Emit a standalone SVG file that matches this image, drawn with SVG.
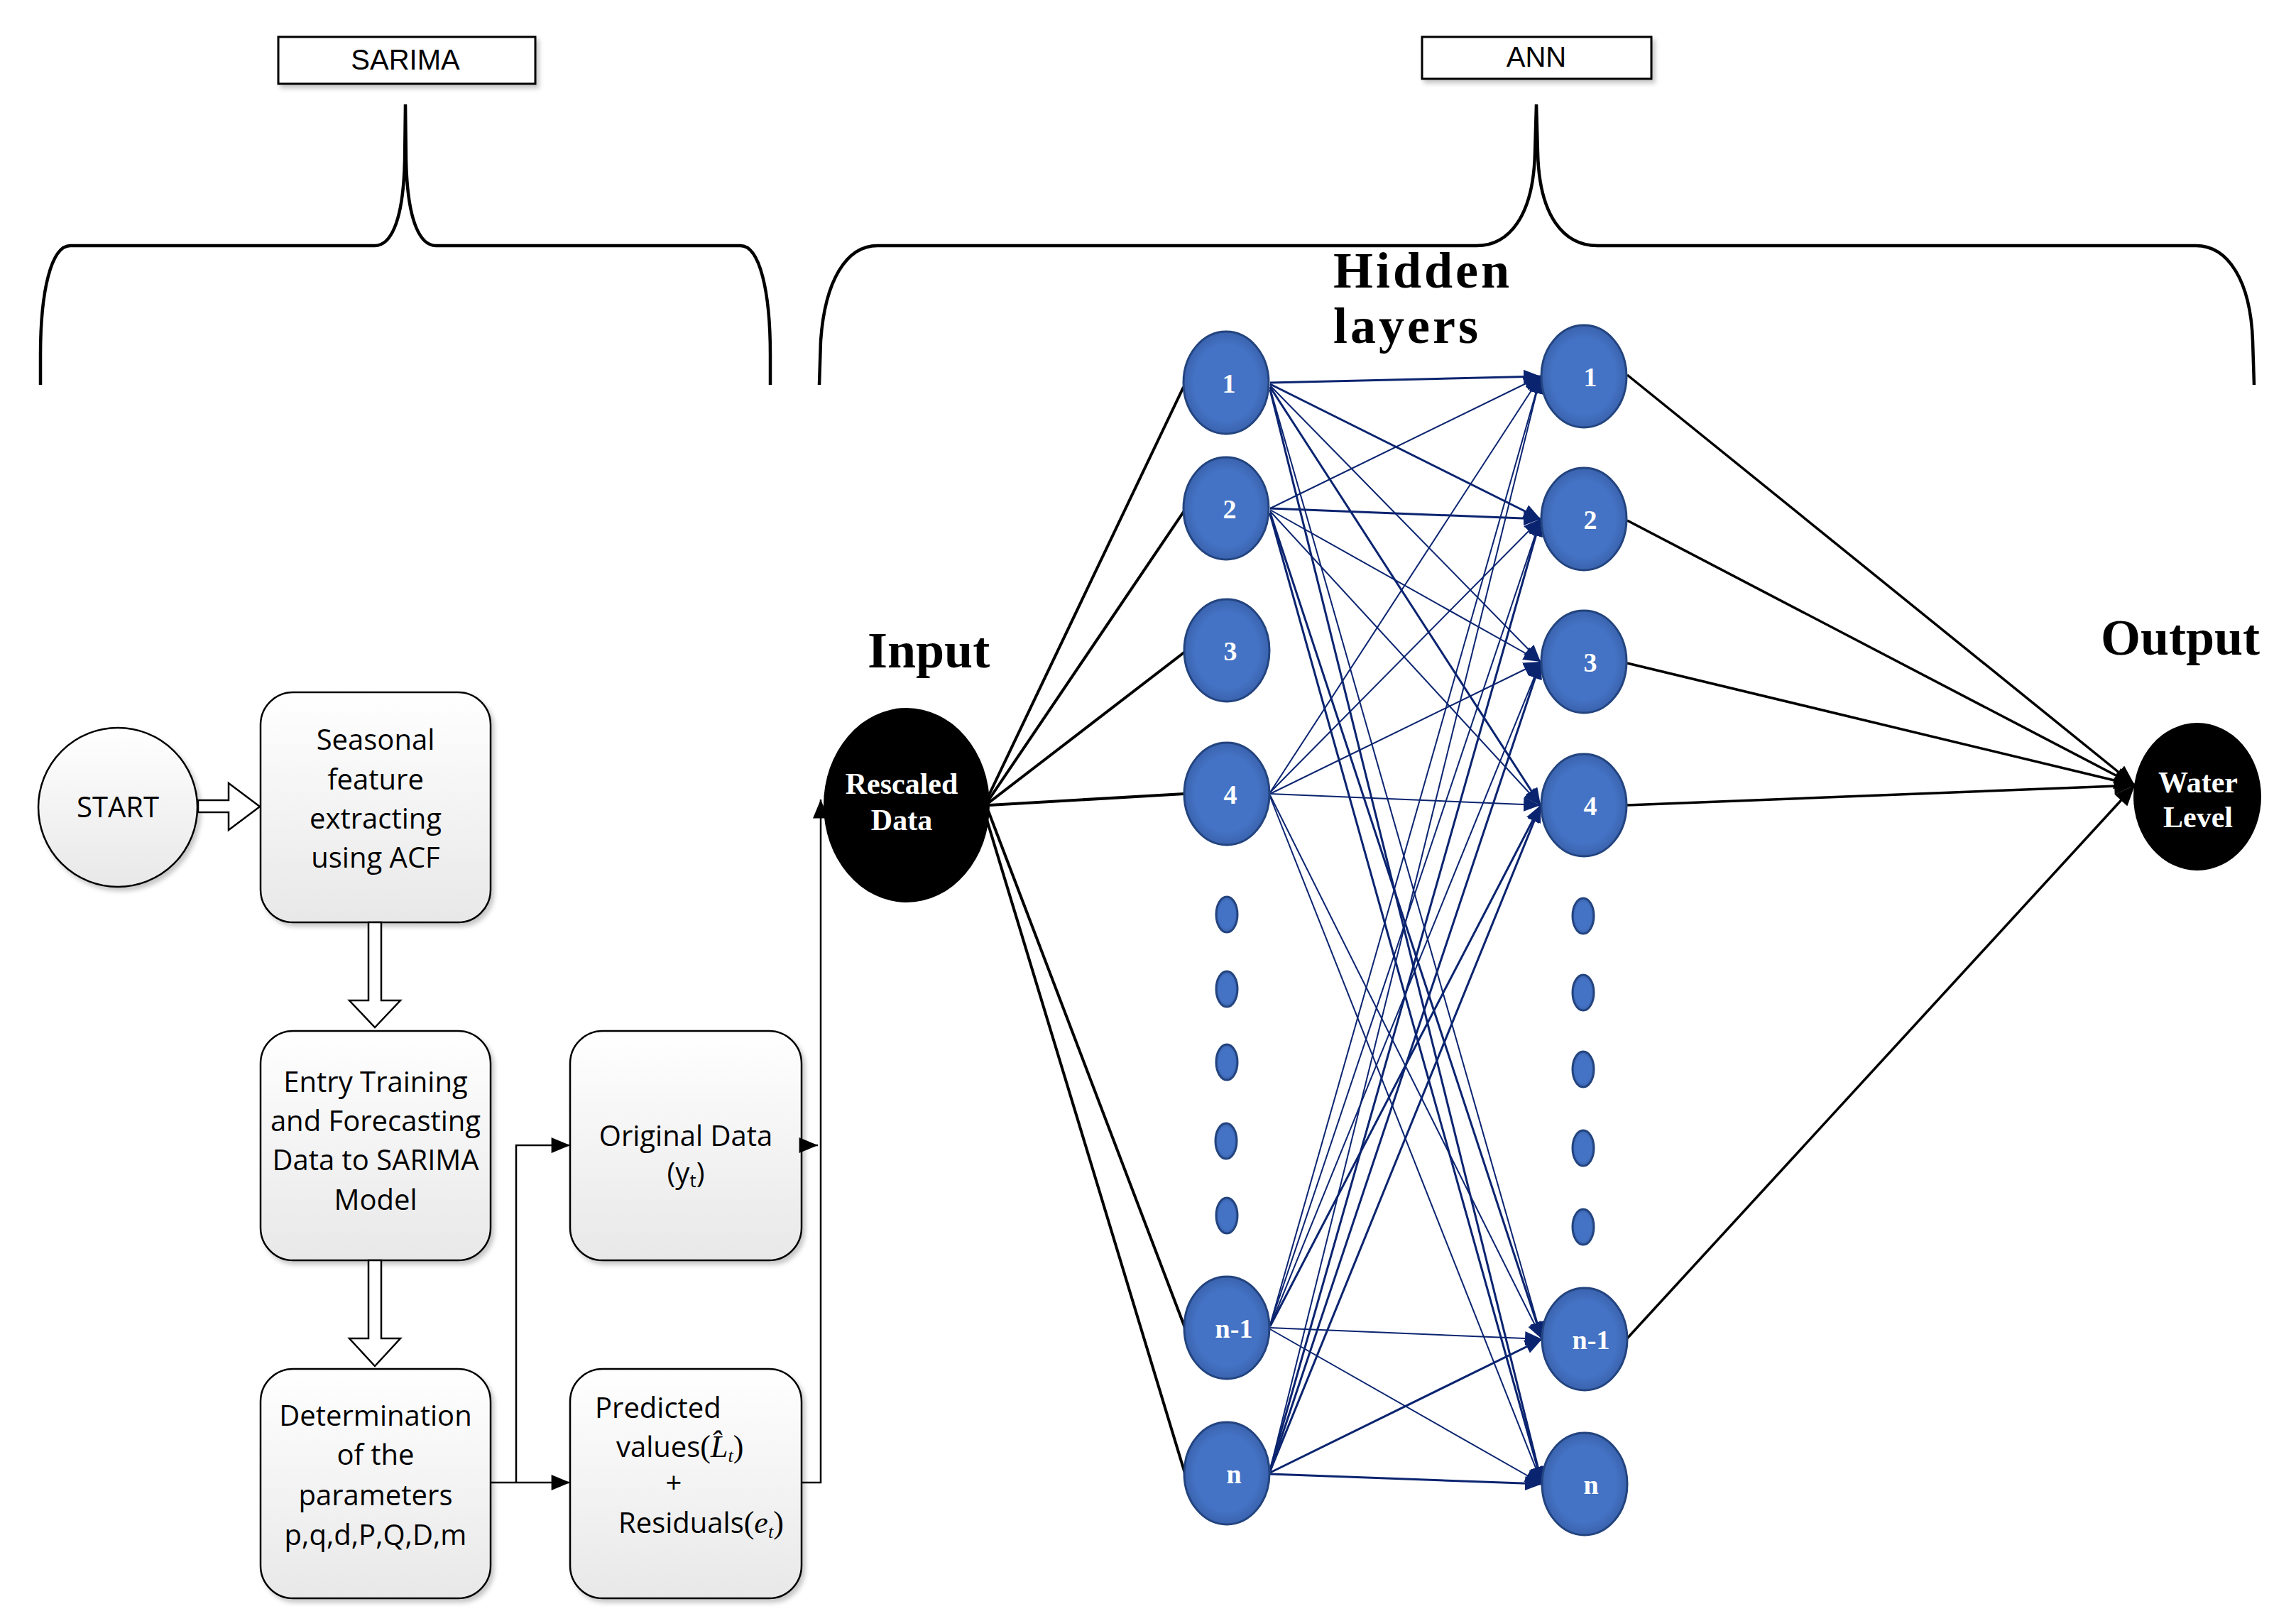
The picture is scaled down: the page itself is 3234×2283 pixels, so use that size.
<svg xmlns="http://www.w3.org/2000/svg" width="3234" height="2283" viewBox="0 0 3234 2283">
<defs>
<style>
.fc{font-family:"Open Sans","Liberation Sans",sans-serif;font-size:40px;fill:#000;text-anchor:middle}
.fs{font-family:"Open Sans","Liberation Sans",sans-serif;font-size:40px;fill:#000;text-anchor:start}
.box{fill:url(#bg);stroke:#000;stroke-width:2.5;filter:url(#sh)}
.brace{fill:none;stroke:#000;stroke-width:4.5}
.hd{font-family:"Liberation Serif",serif;font-weight:bold;font-size:72px;fill:#000}
.nd{fill:url(#nb);stroke:#23447f;stroke-width:3}
.nl{font-family:"Liberation Serif",serif;font-weight:bold;font-size:38px;fill:#fff;text-anchor:middle}
.bl{font-family:"Liberation Serif",serif;font-weight:bold;font-size:42px;fill:#fff;text-anchor:middle}
.hw{stroke:#0b2470;stroke-width:3;fill:none;marker-end:url(#na)}
.hw2{stroke:#0b2470;stroke-width:2;fill:none;marker-end:url(#na)}
.iw{stroke:#000;stroke-width:4;fill:none}
.ow{stroke:#000;stroke-width:3.5;fill:none;marker-end:url(#ka)}
.fl{stroke:#000;stroke-width:2.5;fill:none}
.blk{fill:#fff;stroke:#000;stroke-width:2.5}
.sf{font-family:"Liberation Serif",serif;font-size:44px}
.si{font-family:"Liberation Serif",serif;font-style:italic;font-size:44px}
.sub{font-family:"Liberation Serif",serif;font-style:italic;font-size:26px}
</style>
<linearGradient id="bg" x1="0" y1="0" x2="0" y2="1">
<stop offset="0" stop-color="#ffffff"/>
<stop offset="1" stop-color="#e8e8e8"/>
</linearGradient>
<radialGradient id="nb" cx="0.5" cy="0.5" r="0.5">
<stop offset="0.75" stop-color="#4472c4"/>
<stop offset="1" stop-color="#3a63ae"/>
</radialGradient>
<filter id="sh" x="-10%" y="-10%" width="130%" height="130%">
<feDropShadow dx="4" dy="5" stdDeviation="3" flood-color="#000" flood-opacity="0.22"/>
</filter>
<marker id="na" markerUnits="userSpaceOnUse" markerWidth="24" markerHeight="20" viewBox="0 0 12 10" refX="12" refY="5" orient="auto">
<path d="M0,0 L12,5 L0,10 z" fill="#0b2470"/>
</marker>
<marker id="ka" markerUnits="userSpaceOnUse" markerWidth="30" markerHeight="24" viewBox="0 0 12 10" refX="12" refY="5" orient="auto">
<path d="M0,0 L12,5 L0,10 z" fill="#000"/>
</marker>
<marker id="fa" markerUnits="userSpaceOnUse" markerWidth="28" markerHeight="22" viewBox="0 0 12 10" refX="12" refY="5" orient="auto">
<path d="M0,0 L12,5 L0,10 z" fill="#000"/>
</marker>
</defs>
<rect width="3234" height="2283" fill="#fff"/>

<!-- Braces and section labels -->
<g id="sarima-label">
<rect x="392" y="52" width="362" height="66" fill="#fff" stroke="#000" stroke-width="3" filter="url(#sh)"/>
<text x="571" y="98" font-family="Liberation Sans, sans-serif" font-size="40" text-anchor="middle">SARIMA</text>
<path class="brace" d="M57,542 L57,500 C57,410 72,346 99,346 L528,346 C548,346 568,318 570,226 L571,147 L572,226 C574,318 594,346 614,346 L1043,346 C1070,346 1085,410 1085,500 L1085,542"/>
</g>
<g id="ann-label">
<rect x="2003" y="52" width="323" height="59" fill="#fff" stroke="#000" stroke-width="3" filter="url(#sh)"/>
<text x="2164" y="94" font-family="Liberation Sans, sans-serif" font-size="40" text-anchor="middle">ANN</text>
<path class="brace" d="M1154,542 L1156,480 C1162,395 1192,346 1236,346 L2080,346 C2125,346 2160,305 2162,215 L2164,147 L2166,215 C2168,305 2203,346 2250,346 L3093,346 C3138,346 3170,395 3173,480 L3175,542"/>
</g>

<!-- Flowchart nodes -->
<g id="start">
<circle cx="166" cy="1137" r="112" class="box"/>
<text class="fc" x="166" y="1151">START</text>
</g>
<g id="seasonal">
<rect x="367" y="975" width="324" height="324" rx="46" class="box"/>
<text class="fc" x="529" y="1056">Seasonal</text>
<text class="fc" x="529" y="1112">feature</text>
<text class="fc" x="529" y="1167">extracting</text>
<text class="fc" x="529" y="1222">using ACF</text>
</g>
<g id="entry">
<rect x="367" y="1452" width="324" height="323" rx="46" class="box"/>
<text class="fc" x="529" y="1538">Entry Training</text>
<text class="fc" x="529" y="1593">and Forecasting</text>
<text class="fc" x="529" y="1648">Data to SARIMA</text>
<text class="fc" x="529" y="1704">Model</text>
</g>
<g id="determination">
<rect x="367" y="1928" width="324" height="323" rx="46" class="box"/>
<text class="fc" x="529" y="2008">Determination</text>
<text class="fc" x="529" y="2063">of the</text>
<text class="fc" x="529" y="2120">parameters</text>
<text class="fc" x="529" y="2176">p,q,d,P,Q,D,m</text>
</g>
<g id="original">
<rect x="803" y="1452" width="326" height="323" rx="46" class="box"/>
<text class="fc" x="966" y="1614">Original Data</text>
<text class="fc" x="966" y="1666">(y<tspan font-size="26" dy="6">t</tspan><tspan dy="-6">)</tspan></text>
</g>
<g id="predicted">
<rect x="803" y="1928" width="326" height="323" rx="46" class="box"/>
<text class="fs" x="838" y="1997">Predicted</text>
<text class="fs" x="868" y="2052">values<tspan class="sf">(</tspan><tspan class="si">L̂</tspan><tspan class="sub" dy="7">t</tspan><tspan class="sf" dy="-7">)</tspan></text>
<text class="fc" x="949" y="2103">+</text>
<text class="fs" x="871" y="2159">Residuals<tspan class="sf">(</tspan><tspan class="si">e</tspan><tspan class="sub" dy="7">t</tspan><tspan class="sf" dy="-7">)</tspan></text>
</g>

<!-- ANN nodes -->
<g id="input">
<text class="hd" x="1222" y="940">Input</text>
<ellipse cx="1277" cy="1134" rx="117" ry="137" fill="#000"/>
<text class="bl" x="1270" y="1118">Rescaled<tspan x="1270" dy="51">Data</tspan></text>
</g>
<g id="hidden-title">
<text class="hd" x="1878" y="405" font-size="64" letter-spacing="4">Hidden<tspan x="1878" dy="78">layers</tspan></text>
</g>
<g id="output">
<text class="hd" x="2959" y="922">Output</text>
<ellipse cx="3095" cy="1122" rx="90" ry="104" fill="#000"/>
<text class="bl" x="3096" y="1116" font-size="40">Water<tspan x="3096" dy="49">Level</tspan></text>
</g>

<!-- Connectors -->
<g id="connectors">
<!-- flowchart block arrows -->
<polygon class="blk" points="279,1127 322,1127 322,1103 366,1136 322,1169 322,1144 279,1144"/>
<polygon class="blk" points="519,1299 537,1299 537,1409 564,1409 528,1447 492,1409 519,1409"/>
<polygon class="blk" points="519,1775 537,1775 537,1885 564,1885 528,1924 492,1885 519,1885"/>
<!-- flowchart thin connectors -->
<path class="fl" d="M691,2088 L803,2088" marker-end="url(#fa)"/>
<path class="fl" d="M727,2088 L727,1613 L803,1613" marker-end="url(#fa)"/>
<path class="fl" d="M1129,1613 L1152,1613" marker-end="url(#fa)"/>
<path class="fl" d="M1129,2088 L1156,2088 L1156,1126" marker-end="url(#fa)"/>
<!-- input to hidden layer 1 -->
<line class="iw" x1="1390" y1="1126" x2="1667" y2="545"/>
<line class="iw" x1="1391" y1="1129" x2="1669" y2="718"/>
<line class="iw" x1="1392" y1="1131" x2="1669" y2="918"/>
<line class="iw" x1="1393" y1="1134" x2="1668" y2="1118" stroke-width="5"/>
<line class="iw" x1="1392" y1="1142" x2="1669" y2="1870"/>
<line class="iw" x1="1388" y1="1148" x2="1669" y2="2075"/>
<!-- hidden layer 1 to hidden layer 2 -->
<line class="hw" x1="1789" y1="539" x2="2170" y2="530"/>
<line class="hw" x1="1789" y1="541" x2="2170" y2="731"/>
<line class="hw2" x1="1789" y1="543" x2="2170" y2="932"/>
<line class="hw" x1="1789" y1="545" x2="2170" y2="1134"/>
<line class="hw2" x1="1789" y1="547" x2="2172" y2="1886"/>
<line class="hw" x1="1789" y1="549" x2="2172" y2="2090"/>
<line class="hw2" x1="1789" y1="716" x2="2170" y2="530"/>
<line class="hw" x1="1789" y1="716" x2="2170" y2="731"/>
<line class="hw2" x1="1789" y1="718" x2="2170" y2="932"/>
<line class="hw2" x1="1789" y1="720" x2="2170" y2="1134"/>
<line class="hw" x1="1789" y1="722" x2="2172" y2="1886"/>
<line class="hw" x1="1789" y1="724" x2="2172" y2="2090"/>
<line class="hw2" x1="1789" y1="1116" x2="2170" y2="530"/>
<line class="hw2" x1="1789" y1="1116" x2="2170" y2="731"/>
<line class="hw2" x1="1789" y1="1118" x2="2170" y2="932"/>
<line class="hw2" x1="1789" y1="1118" x2="2170" y2="1134"/>
<line class="hw2" x1="1789" y1="1120" x2="2172" y2="1886"/>
<line class="hw2" x1="1789" y1="1122" x2="2172" y2="2090"/>
<line class="hw2" x1="1789" y1="1866" x2="2170" y2="530"/>
<line class="hw2" x1="1789" y1="1866" x2="2170" y2="731"/>
<line class="hw2" x1="1789" y1="1868" x2="2170" y2="932"/>
<line class="hw" x1="1789" y1="1868" x2="2170" y2="1134"/>
<line class="hw2" x1="1789" y1="1870" x2="2172" y2="1886"/>
<line class="hw2" x1="1789" y1="1872" x2="2172" y2="2090"/>
<line class="hw2" x1="1789" y1="2070" x2="2170" y2="530"/>
<line class="hw" x1="1789" y1="2070" x2="2170" y2="731"/>
<line class="hw" x1="1789" y1="2072" x2="2170" y2="932"/>
<line class="hw" x1="1789" y1="2072" x2="2170" y2="1134"/>
<line class="hw" x1="1789" y1="2074" x2="2172" y2="1886"/>
<line class="hw" x1="1789" y1="2076" x2="2172" y2="2090"/>
<!-- hidden layer 2 to output -->
<line class="ow" x1="2292" y1="528" x2="3007" y2="1106"/>
<line class="ow" x1="2292" y1="733" x2="3007" y2="1106" stroke-width="2.5"/>
<line class="ow" x1="2292" y1="934" x2="3007" y2="1106" stroke-width="5"/>
<line class="ow" x1="2292" y1="1134" x2="3007" y2="1106"/>
<line class="ow" x1="2291" y1="1886" x2="3007" y2="1106" stroke-width="3"/>
</g>

<!-- Hidden layer 1 -->
<g id="h1-1"><ellipse class="nd" cx="1727" cy="539" rx="60" ry="72"/><text class="nl" x="1731" y="553">1</text></g>
<g id="h1-2"><ellipse class="nd" cx="1727" cy="716" rx="60" ry="72"/><text class="nl" x="1732" y="730">2</text></g>
<g id="h1-3"><ellipse class="nd" cx="1728" cy="916" rx="60" ry="72"/><text class="nl" x="1733" y="930">3</text></g>
<g id="h1-4"><ellipse class="nd" cx="1728" cy="1118" rx="60" ry="72"/><text class="nl" x="1733" y="1132">4</text></g>
<g id="h1-dots">
<ellipse class="nd" cx="1728" cy="1288" rx="15" ry="25" stroke-width="2"/>
<ellipse class="nd" cx="1728" cy="1393" rx="15" ry="25" stroke-width="2"/>
<ellipse class="nd" cx="1728" cy="1496" rx="15" ry="25" stroke-width="2"/>
<ellipse class="nd" cx="1727" cy="1607" rx="15" ry="25" stroke-width="2"/>
<ellipse class="nd" cx="1728" cy="1712" rx="15" ry="25" stroke-width="2"/>
</g>
<g id="h1-n1"><ellipse class="nd" cx="1728" cy="1870" rx="60" ry="72"/><text class="nl" x="1738" y="1884">n-1</text></g>
<g id="h1-n"><ellipse class="nd" cx="1728" cy="2075" rx="60" ry="72"/><text class="nl" x="1738" y="2089">n</text></g>

<!-- Hidden layer 2 -->
<g id="h2-1"><ellipse class="nd" cx="2231" cy="530" rx="60" ry="72"/><text class="nl" x="2240" y="544">1</text></g>
<g id="h2-2"><ellipse class="nd" cx="2231" cy="731" rx="60" ry="72"/><text class="nl" x="2240" y="745">2</text></g>
<g id="h2-3"><ellipse class="nd" cx="2231" cy="932" rx="60" ry="72"/><text class="nl" x="2240" y="946">3</text></g>
<g id="h2-4"><ellipse class="nd" cx="2231" cy="1134" rx="60" ry="72"/><text class="nl" x="2240" y="1148">4</text></g>
<g id="h2-dots">
<ellipse class="nd" cx="2230" cy="1290" rx="15" ry="25" stroke-width="2"/>
<ellipse class="nd" cx="2230" cy="1398" rx="15" ry="25" stroke-width="2"/>
<ellipse class="nd" cx="2230" cy="1506" rx="15" ry="25" stroke-width="2"/>
<ellipse class="nd" cx="2230" cy="1617" rx="15" ry="25" stroke-width="2"/>
<ellipse class="nd" cx="2230" cy="1728" rx="15" ry="25" stroke-width="2"/>
</g>
<g id="h2-n1"><ellipse class="nd" cx="2232" cy="1886" rx="60" ry="72"/><text class="nl" x="2241" y="1900">n-1</text></g>
<g id="h2-n"><ellipse class="nd" cx="2232" cy="2090" rx="60" ry="72"/><text class="nl" x="2241" y="2104">n</text></g>
</svg>
